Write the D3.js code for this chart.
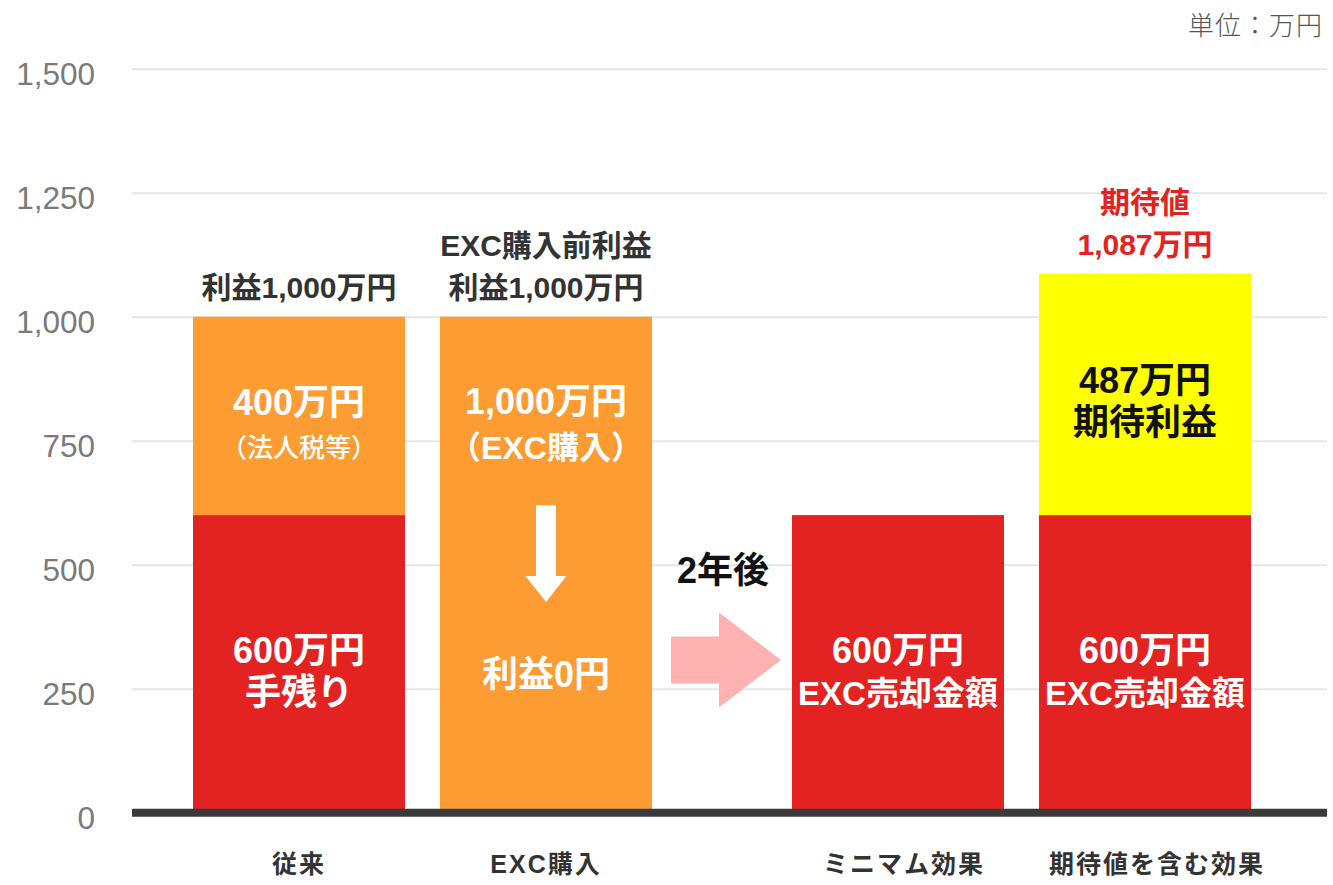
<!DOCTYPE html>
<html>
<head>
<meta charset="utf-8">
<script src="https://cdn.jsdelivr.net/npm/d3@7"></script>
<style>
  body { margin: 0; background: #fff; }
  svg { display: block; font-family: "Liberation Sans", "Noto Sans CJK JP", sans-serif; }
</style>
</head>
<body>
<div id="chart"></div>
<script>
// data
const categories = ["従来", "EXC購入", "ミニマム効果", "期待値を含む効果"];
const redValues = [600, 0, 600, 600];
const orangeValues = [400, 1000, 0, 0];
const yellowValues = [0, 0, 0, 487];
const redLabels = [["600万円", "手残り"], [], ["600万円", "EXC売却金額"], ["600万円", "EXC売却金額"]];
const orangeLabels = [["400万円", "（法人税等）"], ["1,000万円", "（EXC購入）"], [], []];
const yellowLabels = [[], [], [], ["487万円", "期待利益"]];
const topLabels = [["利益1,000万円"], ["EXC購入前利益", "利益1,000万円"], [], ["期待値", "1,087万円"]];
const yTicks = [0, 250, 500, 750, 1000, 1250, 1500];
const unitLabel = "単位：万円";
const afterLabel = "2年後";
const zeroLabel = "利益0円";

const W = 1333, H = 885;
const left = 132, right = 1327;
const colors = { red: "#e32321", orange: "#fc9c32", yellow: "#ffff00" };

const svg = d3.select("#chart").append("svg")
  .attr("width", W)
  .attr("height", H);

// scales
const y = d3.scaleLinear().domain([0, 1500]).range([812.7, 68.7]);
const x = d3.scaleBand().domain(categories).range([193, 1146]).paddingInner(0.1417);
const gap = 105; // room for the "2年後" arrow
const bx = c => x(c) + (categories.indexOf(c) >= 2 ? gap : 0);
const bw = x.bandwidth();

// grid + y labels
const yAxis = svg.append("g")
  .attr("transform", `translate(${left},0)`)
  .call(d3.axisLeft(y).tickValues(yTicks).tickSize(-(right - left)).tickPadding(37).tickFormat(d3.format(",")));
yAxis.select(".domain").remove();
yAxis.selectAll("line").attr("stroke", "#e6e6e6").attr("stroke-width", 2);
yAxis.selectAll("text")
  .attr("dy", "0.5em")
  .attr("fill", "#7a7a7a")
  .style("font-size", "31.5px")
  .style("font-family", "'Liberation Sans', sans-serif");

// unit
svg.append("text")
  .attr("x", 1323).attr("y", 35)
  .attr("text-anchor", "end")
  .attr("fill", "#555")
  .attr("font-weight", "300")
  .style("font-size", "26px")
  .style("letter-spacing", "1px")
  .style("font-family", "'Noto Sans CJK JP', sans-serif")
  .text(unitLabel);

// stacked bars
const table = categories.map((c, i) => ({
  cat: c, red: redValues[i], orange: orangeValues[i], yellow: yellowValues[i]
}));
const keys = ["red", "orange", "yellow"];
const series = d3.stack().keys(keys)(table);
const labelSets = { red: redLabels, orange: orangeLabels, yellow: yellowLabels };

series.forEach(s => {
  svg.append("g").selectAll("rect")
    .data(s.filter(d => d[1] > d[0]))
    .join("rect")
    .attr("x", d => bx(d.data.cat))
    .attr("y", d => y(d[1]))
    .attr("width", bw)
    .attr("height", d => y(d[0]) - y(d[1]))
    .attr("fill", colors[s.key]);
});

function lineSize(t, i) {
  if (i === 0) return 36;
  if (t.startsWith("（")) return /[A-Z]/.test(t) ? 32 : 26;
  if (/[A-Z]/.test(t)) return 33;
  return 36;
}

series.forEach(s => {
  s.forEach((d, i) => {
    const lines = labelSets[s.key][i];
    if (!lines.length || d[1] <= d[0]) return;
    const cx = bx(d.data.cat) + bw / 2;
    const top = y(d[1]), mid = (y(d[0]) + y(d[1])) / 2;
    // the EXC bar keeps its text near the top, the arrow sits below
    const base = i === 1 ? top + 97 : mid - 1;
    const step = i === 1 ? 45 : 42;
    lines.forEach((t, j) => {
      const small = t.startsWith("（") && !/[A-Z]/.test(t);
      svg.append("text")
        .attr("x", cx).attr("y", base + j * step)
        .attr("text-anchor", "middle")
        .attr("fill", s.key === "yellow" ? "#111" : "#fff")
        .attr("font-weight", small ? "500" : "bold")
        .style("font-size", lineSize(t, j) + "px")
        .text(t);
    });
  });
});

// labels above bars
table.forEach((d, i) => {
  const lines = topLabels[i];
  const total = d.red + d.orange + d.yellow;
  const cx = bx(d.cat) + bw / 2;
  lines.forEach((t, j) => {
    svg.append("text")
      .attr("x", cx)
      .attr("y", y(total) - 19 - (lines.length - 1 - j) * 42)
      .attr("text-anchor", "middle")
      .attr("fill", i === 3 ? "#e32321" : "#333")
      .attr("font-weight", "bold")
      .style("font-size", "30px")
      .text(t);
  });
});

// down arrow inside EXC bar
const ecx = bx(categories[1]) + bw / 2;
const down = d3.path();
down.moveTo(ecx - 10, y(620));
down.lineTo(ecx + 10, y(620));
down.lineTo(ecx + 10, y(477));
down.lineTo(ecx + 20.5, y(477));
down.lineTo(ecx, y(425));
down.lineTo(ecx - 20.5, y(477));
down.lineTo(ecx - 10, y(477));
down.closePath();
svg.append("path").attr("d", down.toString()).attr("fill", "#fff");

svg.append("text")
  .attr("x", ecx).attr("y", y(0) - 126)
  .attr("text-anchor", "middle")
  .attr("fill", "#fff")
  .attr("font-weight", "bold")
  .style("font-size", "36px")
  .text(zeroLabel);

// pink arrow between the groups
const ax0 = bx(categories[1]) + bw + 19;
const ax1 = bx(categories[2]) - 11;
const ay = y(308);
const arrow = d3.path();
arrow.moveTo(ax0, ay - 23.5);
arrow.lineTo(ax0 + 48, ay - 23.5);
arrow.lineTo(ax0 + 48, ay - 47.5);
arrow.lineTo(ax1, ay);
arrow.lineTo(ax0 + 48, ay + 47.5);
arrow.lineTo(ax0 + 48, ay + 23.5);
arrow.lineTo(ax0, ay + 23.5);
arrow.closePath();
svg.append("path").attr("d", arrow.toString()).attr("fill", "#ffb2b2");

svg.append("text")
  .attr("x", (ax0 + ax1) / 2 - 3).attr("y", ay - 77)
  .attr("text-anchor", "middle")
  .attr("fill", "#111")
  .attr("font-weight", "bold")
  .style("font-size", "36px")
  .text(afterLabel);

// baseline
svg.append("line")
  .attr("x1", left).attr("x2", right)
  .attr("y1", y(0)).attr("y2", y(0))
  .attr("stroke", "#3a3a3a")
  .attr("stroke-width", 8);

// category labels
svg.append("g").selectAll("text")
  .data(categories)
  .join("text")
  .attr("x", c => bx(c) + bw / 2 + (categories.indexOf(c) >= 2 ? 6 * categories.indexOf(c) - 6 : 0))
  .attr("y", 873)
  .attr("text-anchor", "middle")
  .attr("fill", "#333")
  .attr("font-weight", "bold")
  .style("font-size", "25px")
  .style("letter-spacing", "2px")
  .text(c => c);
</script>
</body>
</html>
